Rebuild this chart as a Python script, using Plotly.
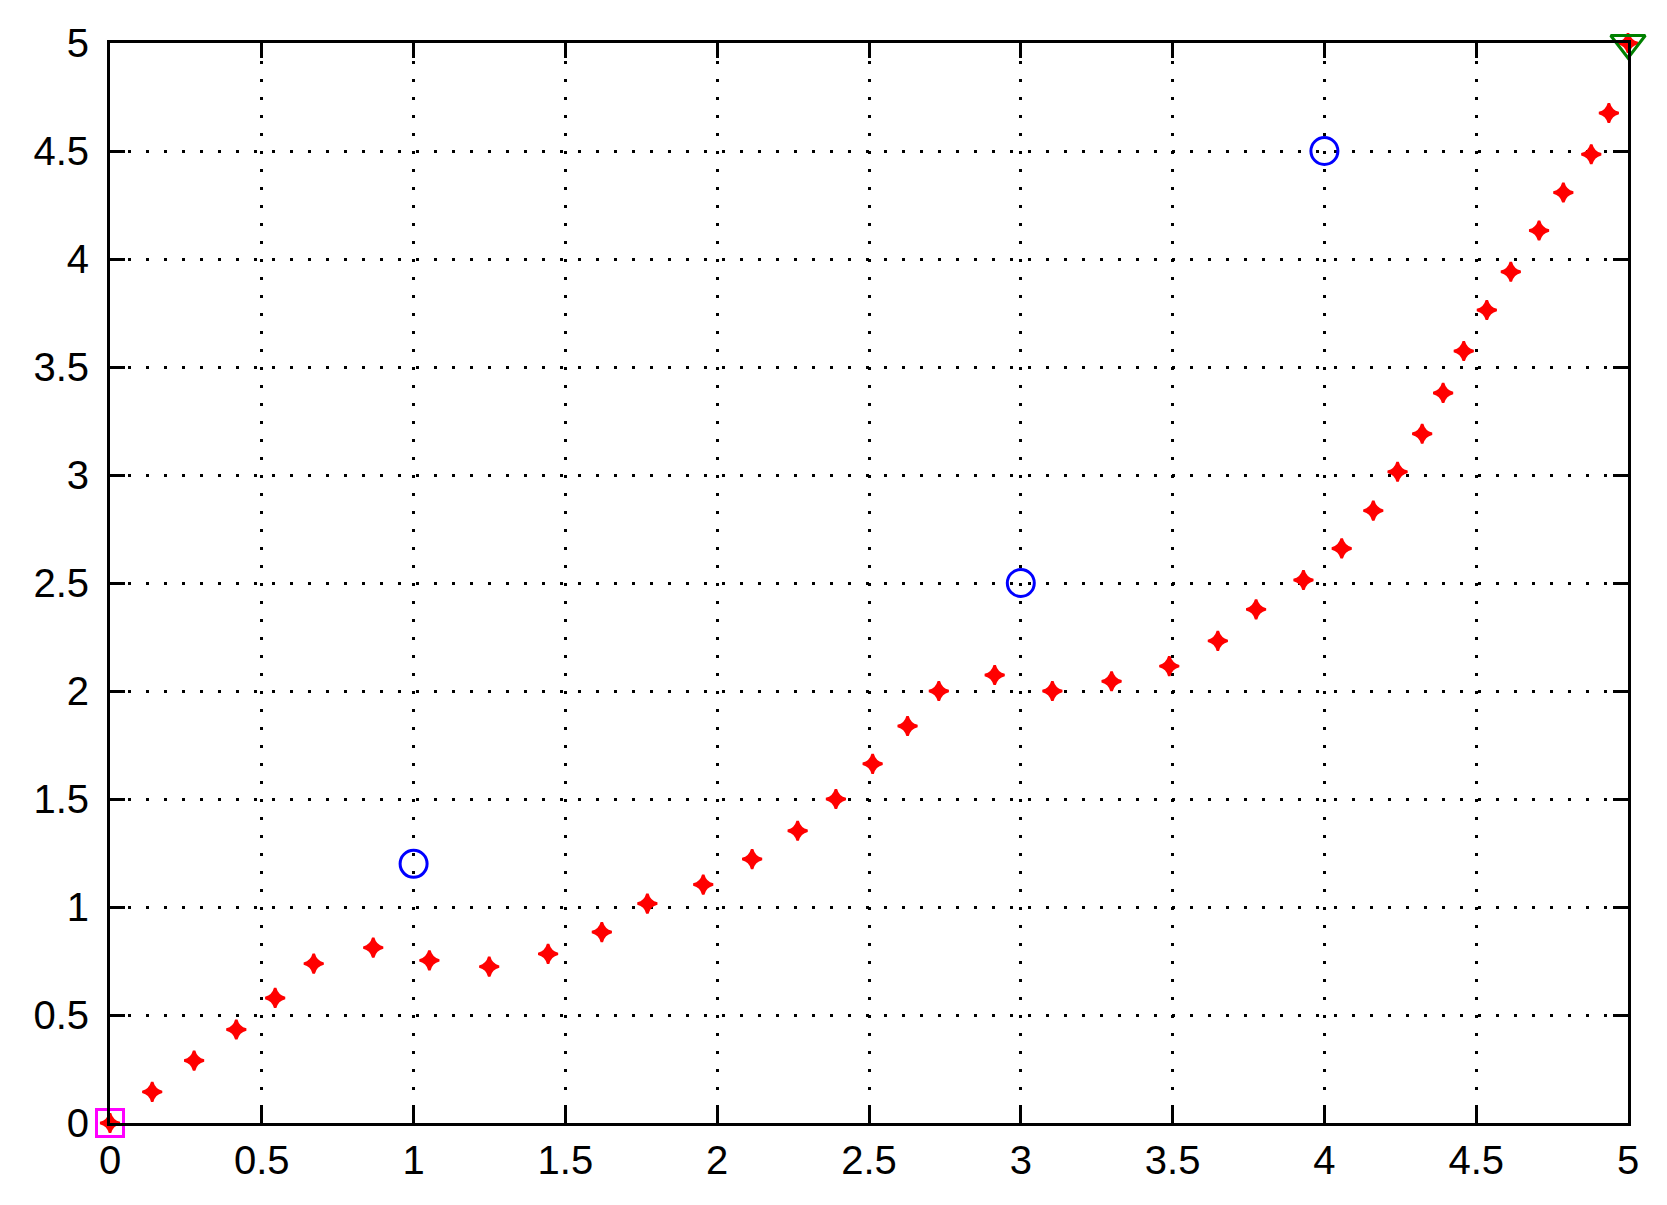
import plotly.graph_objects as go

# ---- data ----
x_interp = [0, 0.139, 0.277, 0.416, 0.544, 0.671, 0.867, 1.052, 1.249, 1.443,
            1.620, 1.770, 1.954, 2.115, 2.265, 2.391, 2.512, 2.627, 2.730, 2.914,
            3.104, 3.299, 3.489, 3.649, 3.775, 3.931, 4.057, 4.161, 4.241, 4.322,
            4.391, 4.459, 4.535, 4.614, 4.707, 4.787, 4.879, 4.937, 5.0]
y_interp = [0, 0.144, 0.289, 0.433, 0.579, 0.738, 0.812, 0.753, 0.724, 0.783,
            0.884, 1.016, 1.104, 1.222, 1.353, 1.500, 1.663, 1.838, 2.000, 2.074,
            2.000, 2.045, 2.115, 2.232, 2.378, 2.514, 2.660, 2.835, 3.015, 3.191,
            3.380, 3.574, 3.764, 3.941, 4.132, 4.308, 4.485, 4.676, 5.0]

x_ctrl = [1, 3, 4]
y_ctrl = [1.2, 2.5, 4.5]

x_start, y_start = [0], [0]
x_end, y_end = [5], [5]

tick_vals = [0, 0.5, 1, 1.5, 2, 2.5, 3, 3.5, 4, 4.5, 5]
tick_text = ["0", "0.5", "1", "1.5", "2", "2.5", "3", "3.5", "4", "4.5", "5"]

fig = go.Figure()

fig.add_trace(go.Scatter(x=x_interp, y=y_interp, mode='markers', cliponaxis=False,
                         marker=dict(symbol='star-diamond', size=14, color='#ff0000',
                                     line=dict(width=2.5, color='#ff0000'))))
fig.add_trace(go.Scatter(x=x_ctrl, y=y_ctrl, mode='markers', cliponaxis=False,
                         marker=dict(symbol='circle-open', size=27, color='#0000ff',
                                     line=dict(width=3, color='#0000ff'))))
fig.add_trace(go.Scatter(x=x_start, y=y_start, mode='markers', cliponaxis=False,
                         marker=dict(symbol='square-open', size=27, color='#ff00ff',
                                     line=dict(width=3, color='#ff00ff'))))
fig.add_trace(go.Scatter(x=x_end, y=y_end, mode='markers', cliponaxis=False,
                         marker=dict(symbol='triangle-down-open', size=30, color='#008000',
                                     line=dict(width=3, color='#008000'))))

axis_style = dict(
    range=[0, 5], tickvals=tick_vals, ticktext=tick_text,
    showline=True, linecolor='black', linewidth=3, mirror='ticks',
    ticks='inside', ticklen=15, tickwidth=3, tickcolor='black',
    showgrid=True, gridcolor='black', gridwidth=2.5, griddash='3px,15px',
    zeroline=False, automargin=False,
    tickfont=dict(family='Liberation Sans, Arial, sans-serif', size=40, color='black'),
)

fig.update_layout(
    width=1651, height=1189,
    margin=dict(l=102, r=31, t=35, b=74),
    plot_bgcolor='white', paper_bgcolor='white',
    showlegend=False,
    xaxis=dict(axis_style, ticklabelstandoff=0),
    yaxis=dict(axis_style, ticklabelstandoff=10),
)

fig.write_html("out.html")
